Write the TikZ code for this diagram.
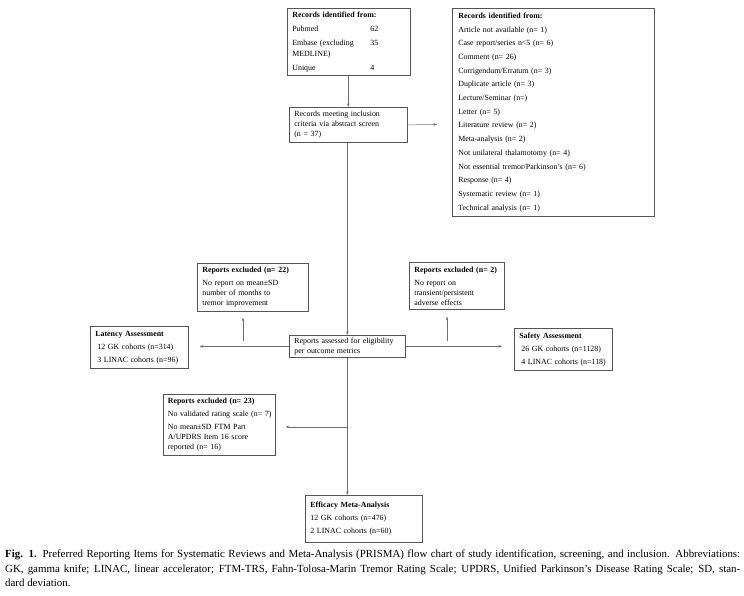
\documentclass[tikz,border=0pt]{standalone}
\usepackage{fontspec}
\setmainfont{Liberation Serif}
\usetikzlibrary{arrows.meta}
\definecolor{boxgray}{HTML}{555555}
\definecolor{linegray}{HTML}{707070}
\begin{document}
\begin{tikzpicture}[x=1pt,y=-1pt,
  box/.style={draw=boxgray, line width=0.7pt, anchor=north west, inner xsep=5pt, inner ysep=2pt,
    align=left, font=\fontsize{7.9}{10}\selectfont, text=black},
  conn/.style={draw=linegray, line width=0.5pt},
  arr/.style={conn, -{Stealth[length=3.5pt,width=2.6pt]}}]
\useasboundingbox[fill=white] (0,0) rectangle (744,596);

% boxes
\node[box, text width=113pt, minimum height=67pt, inner ysep=1pt, font=\fontsize{7.9}{11}\selectfont] (A) at (287,8) {%
  \textbf{Records identified from:}\\[3pt]
  \makebox[78pt][l]{Pubmed}62\\[3pt]
  \makebox[78pt][l]{Embase (excluding}35\\
  MEDLINE)\\[3pt]
  \makebox[78pt][l]{Unique}4};

\node[box, text width=190pt, minimum height=208pt, inner xsep=6pt, font=\fontsize{7.9}{13.7}\selectfont] (B) at (452,8) {%
  \textbf{Records identified from:}\\
  Article not available (n= 1)\\
  Case report/series n<5 (n= 6)\\
  Comment (n= 26)\\
  Corrigendum/Erratum (n= 3)\\
  Duplicate article (n= 3)\\
  Lecture/Seminar (n=)\\
  Letter (n= 5)\\
  Literature review (n= 2)\\
  Meta-analysis (n= 2)\\
  Not unilateral thalamotomy (n= 4)\\
  Not essential tremor/Parkinson's (n= 6)\\
  Response (n= 4)\\
  Systematic review (n= 1)\\
  Technical analysis (n= 1)};

\node[box, text width=108pt, minimum height=35pt] (C) at (289,107) {%
  Records meeting inclusion\\criteria via abstract screen\\(n = 37)};

\node[box, text width=106pt, minimum height=22pt] (D) at (289,335) {%
  Reports assessed for eligibility\\per outcome metrics};

\node[box, text width=101pt, minimum height=48pt] (E) at (197,263) {%
  \textbf{Reports excluded (n= 22)}\\[3pt]
  No report on mean±SD\\number of months to\\tremor improvement};

\node[box, text width=88pt, minimum height=42pt] (F) at (90,326) {%
  \textbf{Latency Assessment}\\[3pt]
  \hspace*{2pt}12 GK cohorts (n=314)\\[3pt]
  \hspace*{2pt}3 LINAC cohorts (n=96)};

\node[box, text width=85pt, minimum height=47pt] (G) at (409,262) {%
  \textbf{Reports excluded (n= 2)}\\[3pt]
  No report on\\transient/persistent\\adverse effects};

\node[box, text width=88pt, minimum height=42pt] (H) at (514,328) {%
  \textbf{Safety Assessment}\\[3pt]
  \hspace*{2pt}26 GK cohorts (n=1128)\\[3pt]
  \hspace*{2pt}4 LINAC cohorts (n=118)};

\node[box, text width=103pt, inner xsep=4.5pt, minimum height=61pt] (I) at (163,394) {%
  \textbf{Reports excluded (n= 23)}\\[3pt]
  \mbox{No validated rating scale (n= 7)}\\[3pt]
  No mean±SD FTM Part\\A/UPDRS Item 16 score\\reported (n= 16)};

\node[box, text width=107pt, minimum height=47pt] (J) at (305,495) {%
  \textbf{Efficacy Meta-Analysis}\\[3pt]
  12 GK cohorts (n=476)\\[3pt]
  2 LINAC cohorts (n=60)};

% caption
\node[anchor=north west, inner sep=0pt, text width=735pt, align=justify,
      font=\fontsize{10.9}{14.5}\selectfont] (cap) at (5,550) {%
  \textbf{Fig. 1.} Preferred Reporting Items for Systematic Reviews and Meta-Analysis (PRISMA) flow chart of study identification, screening, and inclusion. Abbreviations:\linebreak
  GK, gamma knife; LINAC, linear accelerator; FTM-TRS, Fahn-Tolosa-Marin Tremor Rating Scale; UPDRS, Unified Parkinson's Disease Rating Scale; SD, stan-\linebreak
  dard deviation.};

% connectors
\coordinate (cR) at (437,124.5);
\coordinate (tI) at (347,427);
\coordinate (jE) at (243,341);
\coordinate (jG) at (447,341);

\draw[arr] (A.south -| C.north) -- (C.north);
\draw[arr] (C.east) -- (cR);
\draw[arr] (C.south -| D.north) -- (D.north);
\draw[arr] (D.south) -- (D.south |- J.north);
\draw[arr, shorten >=10pt] (tI) -- (tI -| I.east);
\draw[arr, shorten >=11pt] (D.west) -- (D.west -| F.east);
\draw[arr, shorten >=12pt] (D.east) -- (D.east -| H.west);
\draw[arr, shorten >=6pt] (jE) -- (jE |- E.south);
\draw[arr, shorten >=7pt] (jG) -- (jG |- G.south);
\end{tikzpicture}
\end{document}
